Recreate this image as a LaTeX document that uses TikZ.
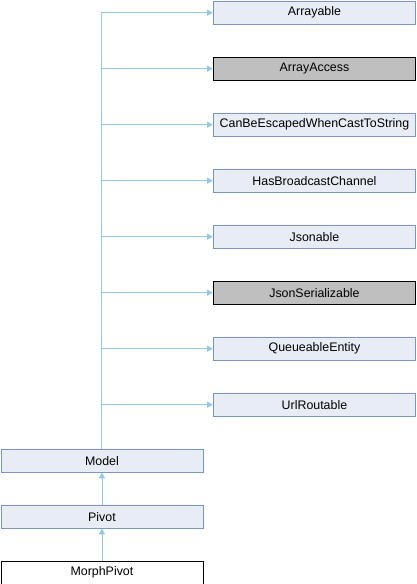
\documentclass[tikz,border=0pt]{standalone}
\usepackage{fontspec}
\setmainfont{Liberation Sans}
\usetikzlibrary{arrows.meta}
\definecolor{boxfill}{HTML}{E8ECF5}
\definecolor{boxline}{HTML}{7B94C6}
\definecolor{extfill}{HTML}{BFBFBF}
\definecolor{edgecol}{HTML}{95C8E7}
\tikzset{
  cls/.style={draw=boxline, fill=boxfill, line width=0.9pt, minimum width=202pt, minimum height=22.5pt, inner sep=0pt, font=\fontsize{12.4}{14}\selectfont, anchor=north west},
  extcls/.style={cls, draw=black, fill=extfill},
  curcls/.style={cls, draw=black, fill=white},
  inh/.style={draw=edgecol, line width=0.9pt, -{Triangle[length=6pt,width=6pt]}}
}
\begin{document}
\begin{tikzpicture}[x=1pt,y=-1pt]
\useasboundingbox (0,0) rectangle (416,584);
% interfaces and base types
\node[cls]    (arrayable) at (213,1)   {Arrayable};
\node[extcls] (arrayaccess) at (213,57) {ArrayAccess};
\node[cls]    (canbe) at (213,113)     {CanBeEscapedWhenCastToString};
\node[cls]    (hasbc) at (213,169)     {HasBroadcastChannel};
\node[cls]    (jsonable) at (213,225)  {Jsonable};
\node[extcls] (jsonser) at (213,281)   {JsonSerializable};
\node[cls]    (queue) at (213,337)     {QueueableEntity};
\node[cls]    (url) at (213,393)       {UrlRoutable};
% class chain
\node[cls]    (model) at (0.5,449)     {Model};
\node[cls]    (pivot) at (0.5,505)     {Pivot};
\node[curcls] (morph) at (0.5,561)     {MorphPivot};
% trunk from Model upward
\coordinate (trunk) at (101.5,12.25);
\draw[draw=edgecol, line width=0.9pt] (model.north -| trunk) -- (trunk);
\foreach \n in {arrayable,arrayaccess,canbe,hasbc,jsonable,jsonser,queue,url}{
  \draw[inh] (\n.west -| trunk) -- (\n.west);
}
\draw[inh] (morph.north) -- (pivot.south);
\draw[inh] (pivot.north) -- (model.south);
\end{tikzpicture}
\end{document}
